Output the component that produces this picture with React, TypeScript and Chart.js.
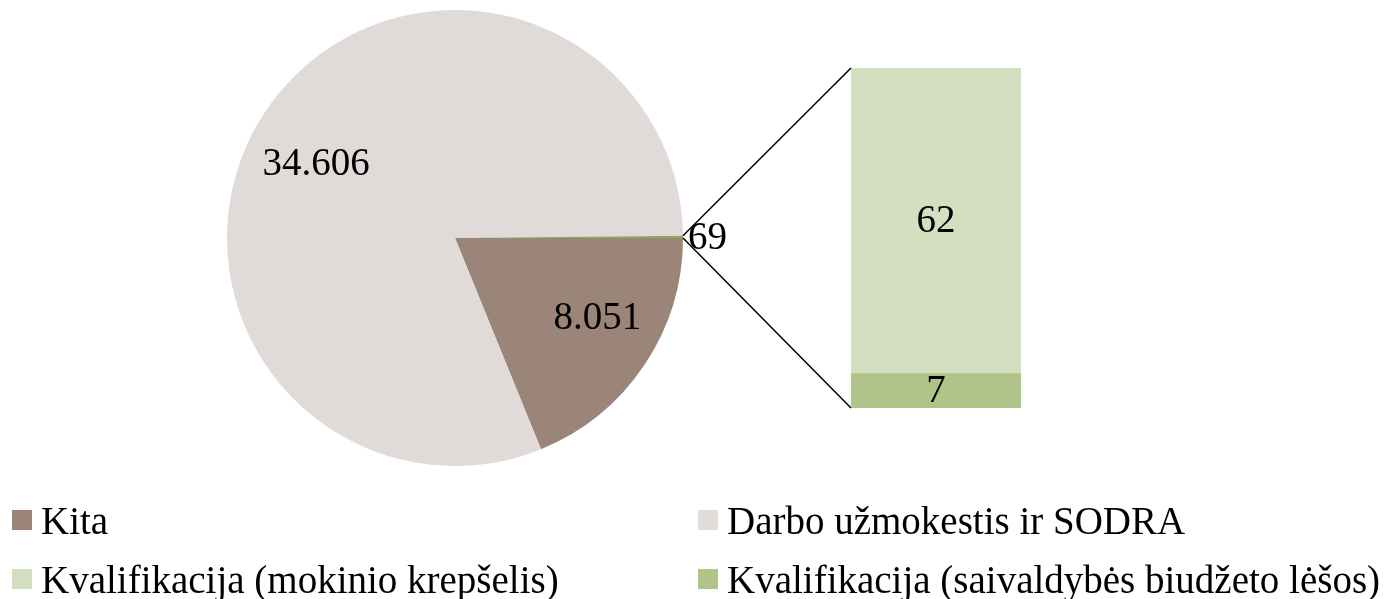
import React, { useEffect, useRef } from "react";
import { Chart, registerables } from "chart.js";

Chart.register(...registerables);

const pieLabels = ["Kita", "Darbo užmokestis ir SODRA", "Kvalifikacija"];
const pieValues = [8051, 34606, 69];
const pieColors = ["#9b8579", "#e0dbd8", "#8fa860"];

const barLabels = ["Kvalifikacija (saivaldybės biudžeto lėšos)", "Kvalifikacija (mokinio krepšelis)"];
const barValues = [7, 62];
const barColors = ["#b0c48a", "#d4dfc0"];

const legendItems = [
  { label: "Kita", color: "#9b8579" },
  { label: "Darbo užmokestis ir SODRA", color: "#e0dbd8" },
  { label: "Kvalifikacija (mokinio krepšelis)", color: "#d4dfc0" },
  { label: "Kvalifikacija (saivaldybės biudžeto lėšos)", color: "#b0c48a" },
];

const FONT = "'Liberation Serif', 'Times New Roman', serif";
const fmt = (v: number) => {
  const s = String(v);
  return s.length > 3 ? s.slice(0, s.length - 3) + "." + s.slice(s.length - 3) : s;
};

export default function App() {
  const pieRef = useRef<HTMLCanvasElement>(null);
  const barRef = useRef<HTMLCanvasElement>(null);

  useEffect(() => {
    const W = 1391, H = 599;
    const nudges = [
      { dx: 10, dy: -8 },
      { dx: -6, dy: 15 },
    ];
    const pieLabelPlugin = {
      id: "pieLabels",
      afterDatasetsDraw(chart: any) {
        const ctx = chart.ctx;
        const meta = chart.getDatasetMeta(0);
        ctx.save();
        ctx.fillStyle = "#000";
        ctx.font = `39px ${FONT}`;
        ctx.textBaseline = "middle";
        meta.data.forEach((arc: any, i: number) => {
          const { x, y, startAngle, endAngle, outerRadius } = arc.getProps(
            ["x", "y", "startAngle", "endAngle", "outerRadius"], true
          );
          const mid = (startAngle + endAngle) / 2;
          const text = fmt(pieValues[i]);
          if (i === 2) {
            ctx.textAlign = "left";
            ctx.fillText(text, x + outerRadius + 5, y + 1);
          } else {
            const r = outerRadius * 0.7;
            ctx.textAlign = "center";
            ctx.fillText(
              text,
              x + Math.cos(mid) * r + nudges[i].dx,
              y + Math.sin(mid) * r + nudges[i].dy
            );
          }
        });
        ctx.restore();
      },
    };

    const pie = new Chart(pieRef.current!, {
      type: "pie",
      data: {
        labels: pieLabels,
        datasets: [
          {
            data: pieValues,
            backgroundColor: pieColors,
            borderWidth: 0,
            hoverOffset: 0,
          },
        ],
      },
      options: {
        responsive: false,
        animation: false,
        rotation: 90,
        radius: 228,
        layout: { padding: { left: 227, top: 10, right: W - 683, bottom: H - 466 } },
        plugins: { legend: { display: false }, tooltip: { enabled: false } },
        events: [],
      },
      plugins: [pieLabelPlugin],
    });

    const barPlugin = {
      id: "barExtras",
      afterDatasetsDraw(chart: any) {
        const ctx = chart.ctx;
        ctx.save();
        ctx.fillStyle = "#000";
        ctx.font = `39px ${FONT}`;
        ctx.textAlign = "center";
        ctx.textBaseline = "middle";
        chart.data.datasets.forEach((ds: any, di: number) => {
          const el: any = chart.getDatasetMeta(di).data[0];
          const { x, y, base } = el.getProps(["x", "y", "base"], true);
          ctx.fillText(String(ds.data[0]), x, (y + base) / 2 + 1);
        });
        const arc: any = pie.getDatasetMeta(0).data[2];
        const p = arc.getProps(["x", "y", "startAngle", "endAngle", "outerRadius"], true);
        const bottomEl: any = chart.getDatasetMeta(0).data[0];
        const topEl: any = chart.getDatasetMeta(1).data[0];
        const b = bottomEl.getProps(["x", "base", "width"], true);
        const t = topEl.getProps(["x", "y", "width"], true);
        const left = b.x - b.width / 2;
        ctx.strokeStyle = "#000";
        ctx.lineWidth = 1.5;
        ctx.beginPath();
        ctx.moveTo(p.x + Math.cos(p.startAngle) * p.outerRadius, p.y + Math.sin(p.startAngle) * p.outerRadius);
        ctx.lineTo(left, t.y);
        ctx.moveTo(p.x + Math.cos(p.endAngle) * p.outerRadius, p.y + Math.sin(p.endAngle) * p.outerRadius);
        ctx.lineTo(left, b.base);
        ctx.stroke();
        ctx.restore();
      },
    };

    const bar = new Chart(barRef.current!, {
      type: "bar",
      data: {
        labels: [""],
        datasets: barValues.map((v, i) => ({
          label: barLabels[i],
          data: [v],
          backgroundColor: barColors[i],
          borderWidth: 0,
          barPercentage: 1,
          categoryPercentage: 1,
        })),
      },
      options: {
        responsive: false,
        animation: false,
        layout: { padding: { left: 851, top: 68, right: W - 1021, bottom: H - 408 } },
        scales: {
          x: { stacked: true, display: false },
          y: { stacked: true, display: false, min: 0, max: barValues.reduce((a, c) => a + c, 0) },
        },
        plugins: { legend: { display: false }, tooltip: { enabled: false } },
        events: [],
      },
      plugins: [barPlugin],
    });

    return () => {
      bar.destroy();
      pie.destroy();
    };
  }, []);

  const legendPos = [
    { left: 12, top: 520 },
    { left: 698, top: 520 },
    { left: 12, top: 579 },
    { left: 698, top: 579 },
  ];

  return (
    <div style={{ position: "fixed", left: 0, top: 0, width: 1391, height: 599, background: "#fff", overflow: "hidden" }}>
      <canvas ref={pieRef} width={1391} height={599} style={{ position: "absolute", left: 0, top: 0 }} />
      <canvas ref={barRef} width={1391} height={599} style={{ position: "absolute", left: 0, top: 0 }} />
      {legendItems.map((it, i) => (
        <div
          key={i}
          style={{
            position: "absolute",
            left: legendPos[i].left,
            top: legendPos[i].top - 22,
            height: 44,
            display: "flex",
            alignItems: "center",
            fontFamily: FONT,
            fontSize: 39,
            color: "#000",
            whiteSpace: "nowrap",
          }}
        >
          <span style={{ display: "inline-block", width: 20, height: 20, background: it.color, marginRight: 9 }} />
          <span>{it.label}</span>
        </div>
      ))}
    </div>
  );
}
